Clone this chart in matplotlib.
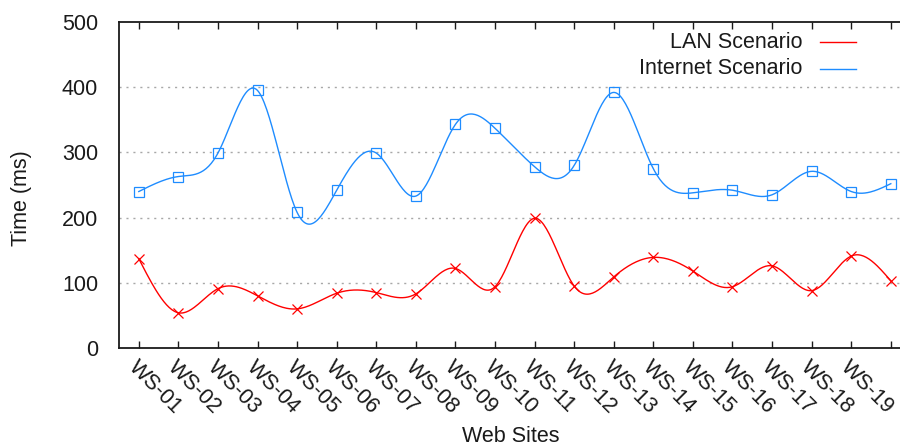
import numpy as np
import matplotlib
matplotlib.use("Agg")
import matplotlib.pyplot as plt
from matplotlib.lines import Line2D

plt.rcParams['font.family'] = ['Liberation Sans', 'DejaVu Sans']

# Response time per web site (ms)
sites = ["WS-%02d" % i for i in range(1, 20)]
lan_ms = [137, 54, 91, 80, 60, 84, 85, 83, 122, 94,
          199, 95, 109, 139, 118, 94, 126, 88, 141, 103]
internet_ms = [240, 263, 299, 395, 208, 242, 299, 233, 343, 337,
               278, 280, 392, 275, 238, 242, 235, 271, 240, 252]

RED = '#ff0000'
BLUE = '#1e8cff'
TXT = '#1a1a1a'
FS = 15.5


def natural_spline(y, n_sub=30):
    # natural cubic spline through equally spaced points (like gnuplot csplines)
    y = np.asarray(y, dtype=float)
    n = len(y)
    A = np.zeros((n, n))
    b = np.zeros(n)
    A[0, 0] = A[-1, -1] = 1.0
    for i in range(1, n - 1):
        A[i, i - 1], A[i, i], A[i, i + 1] = 1.0, 4.0, 1.0
        b[i] = 6.0 * (y[i + 1] - 2 * y[i] + y[i - 1])
    m = np.linalg.solve(A, b)
    xs, ys = [], []
    for i in range(n - 1):
        t = np.linspace(0, 1, n_sub, endpoint=(i == n - 2))
        seg = ((1 - t) * y[i] + t * y[i + 1]
               + ((1 - t) ** 3 - (1 - t)) * m[i] / 6.0
               + (t ** 3 - t) * m[i + 1] / 6.0)
        xs.append(i + t)
        ys.append(seg)
    return np.concatenate(xs), np.concatenate(ys)


fig = plt.figure(figsize=(9, 4.47), dpi=100)
ax = fig.add_axes([119 / 900, 99 / 447, 791.6 / 900, 326 / 447])

x = np.arange(len(lan_ms))
for vals, col, mk in [(lan_ms, RED, 'x'), (internet_ms, BLUE, 's')]:
    sx, sy = natural_spline(vals)
    ax.plot(sx, sy, color=col, lw=1.0)
    ax.plot(x, vals, ls='none', marker=mk, ms=7.5, mfc='none',
            mec=col, mew=0.9)

ax.set_xlim(-0.5, 19.5)
ax.set_ylim(0, 500)
ax.set_yticks(range(0, 501, 100))
ax.set_xticks(x)
ax.set_xticklabels(sites + [""], rotation=-45, ha='left', va='top',
                   rotation_mode='anchor')

for yv in range(100, 500, 100):
    ax.axhline(yv, color='#a8a8a8', lw=1.0, ls=(0, (1.5, 3.5)), zorder=0)

for side in ['left', 'bottom', 'top']:
    ax.spines[side].set_linewidth(1.3)
    ax.spines[side].set_color(TXT)
ax.spines['right'].set_visible(False)

ax.tick_params(axis='x', direction='in', length=5, width=1.0, top=True,
               bottom=True, labelsize=FS, labelcolor=TXT, pad=6, color=TXT)
ax.tick_params(axis='y', length=0, labelsize=FS, labelcolor=TXT, pad=15)

fig.text(22 / 900, 1 - 198 / 447, "Time (ms)", rotation=90, ha='center',
         va='center', fontsize=FS, color=TXT)
fig.text(511 / 900, 1 - 436 / 447, "Web Sites", ha='center', va='center',
         fontsize=FS, color=TXT)

# key in the top right corner
for row, (label, col) in enumerate([("LAN Scenario", RED),
                                    ("Internet Scenario", BLUE)]):
    yk = 1 - (42 + 27 * row) / 447
    fig.text(802 / 900, yk, label, ha='right', va='center', fontsize=FS,
             color=TXT)
    fig.add_artist(Line2D([820 / 900, 856 / 900], [yk, yk], color=col,
                          lw=1.0, transform=fig.transFigure))

fig.savefig("out.png", dpi=100)
